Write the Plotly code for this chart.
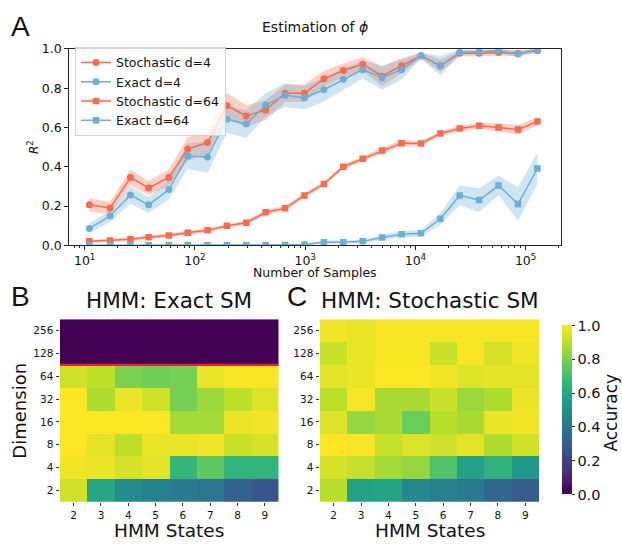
import plotly.graph_objects as go

W, H = 622, 546
FONT = "DejaVu Sans"

# ---- Panel A: R^2 of the phi estimate vs number of samples ----
samples = [11, 17, 26, 38, 58, 86, 130, 195, 292, 438, 657, 985, 1478, 2217,
           3325, 4988, 7482, 11223, 16834, 25251, 37877, 56815, 85223, 127834]

stoch_d4 = [0.206, 0.19, 0.345, 0.292, 0.345, 0.49, 0.523, 0.71, 0.658, 0.688,
            0.774, 0.774, 0.848, 0.89, 0.922, 0.861, 0.914, 0.965, 0.914, 0.977,
            0.977, 0.982, 0.977, 0.99]
stoch_d4_err = [0.035, 0.03, 0.04, 0.035, 0.04, 0.06, 0.06, 0.065, 0.055, 0.05,
                0.045, 0.045, 0.04, 0.035, 0.035, 0.05, 0.04, 0.015, 0.03, 0.015,
                0.015, 0.015, 0.015, 0.01]

exact_d4 = [0.086, 0.149, 0.256, 0.206, 0.284, 0.454, 0.449, 0.642, 0.617, 0.714,
            0.764, 0.751, 0.792, 0.845, 0.894, 0.853, 0.894, 0.965, 0.914, 0.982,
            0.985, 0.99, 0.974, 0.995]
exact_d4_err = [0.025, 0.03, 0.045, 0.04, 0.05, 0.065, 0.08, 0.07, 0.07, 0.06,
                0.06, 0.06, 0.06, 0.055, 0.045, 0.06, 0.05, 0.015, 0.05, 0.015,
                0.012, 0.012, 0.015, 0.01]

stoch_d64 = [0.02, 0.025, 0.031, 0.041, 0.05, 0.064, 0.076, 0.099, 0.115, 0.168,
             0.188, 0.254, 0.312, 0.40, 0.44, 0.482, 0.52, 0.518, 0.569, 0.594,
             0.609, 0.60, 0.589, 0.63]
stoch_d64_err = [0.008, 0.008, 0.008, 0.01, 0.01, 0.01, 0.01, 0.01, 0.01, 0.012,
                 0.012, 0.012, 0.012, 0.012, 0.012, 0.015, 0.015, 0.012, 0.012, 0.015,
                 0.015, 0.02, 0.025, 0.02]

exact_d64 = [0.0, 0.0, 0.0, 0.0, 0.0, 0.0, 0.0, 0.0, 0.0, 0.0,
             0.002, 0.004, 0.016, 0.016, 0.02, 0.04, 0.056, 0.061, 0.135, 0.254,
             0.23, 0.304, 0.21, 0.391]
exact_d64_err = [0.002, 0.002, 0.002, 0.002, 0.002, 0.002, 0.002, 0.002, 0.002, 0.002,
                 0.003, 0.004, 0.008, 0.008, 0.008, 0.012, 0.015, 0.018, 0.03, 0.05,
                 0.06, 0.05, 0.085, 0.08]

# ---- Panels B/C: HMM accuracy by state count and dimension ----
hmm_states = ["2", "3", "4", "5", "6", "7", "8", "9"]
dimensions = ["256", "128", "64", "32", "16", "8", "4", "2"]

acc_exact = [
    [0.0, 0.0, 0.0, 0.0, 0.0, 0.0, 0.0, 0.0],
    [0.0, 0.0, 0.0, 0.0, 0.0, 0.0, 0.0, 0.0],
    [0.93, 0.90, 0.80, 0.78, 0.79, 0.97, 0.99, 0.99],
    [1.0, 0.88, 0.97, 0.93, 0.79, 0.85, 0.90, 0.95],
    [1.0, 1.0, 1.0, 1.0, 0.86, 0.86, 0.97, 0.98],
    [1.0, 0.96, 0.90, 0.97, 0.97, 0.98, 0.92, 0.94],
    [0.98, 0.97, 0.94, 0.96, 0.66, 0.75, 0.65, 0.65],
    [0.93, 0.59, 0.48, 0.44, 0.41, 0.39, 0.31, 0.27],
]
acc_stoch = [
    [0.98, 0.97, 0.99, 0.99, 0.99, 0.99, 0.99, 0.99],
    [0.92, 0.97, 0.99, 0.99, 0.92, 0.99, 0.94, 0.98],
    [0.96, 0.97, 1.0, 1.0, 0.98, 0.95, 0.96, 0.96],
    [0.90, 0.99, 0.87, 0.87, 0.92, 0.85, 0.88, 0.97],
    [0.95, 0.84, 0.87, 0.77, 0.89, 0.87, 0.97, 0.98],
    [1.0, 0.99, 0.91, 0.95, 0.93, 0.96, 0.88, 0.93],
    [0.94, 0.91, 0.86, 0.84, 0.72, 0.57, 0.64, 0.53],
    [0.89, 0.57, 0.58, 0.47, 0.43, 0.41, 0.33, 0.29],
]

RED = "#fa6a4c"
BLUE = "#6baed6"
RED_FILL = "rgba(250,106,76,0.32)"
BLUE_FILL = "rgba(107,174,214,0.32)"

fig = go.Figure()

series = [
    ("Stochastic d=4", stoch_d4, stoch_d4_err, RED, RED_FILL, "circle", 7),
    ("Exact d=4", exact_d4, exact_d4_err, BLUE, BLUE_FILL, "circle", 7),
    ("Stochastic d=64", stoch_d64, stoch_d64_err, RED, RED_FILL, "square", 6.5),
    ("Exact d=64", exact_d64, exact_d64_err, BLUE, BLUE_FILL, "square", 6.5),
]

# shaded spread bands first, mean lines on top
for name, vals, err, col, fill, sym, msize in series:
    upper = [v + e for v, e in zip(vals, err)]
    lower = [v - e for v, e in zip(vals, err)]
    fig.add_trace(go.Scatter(x=samples, y=upper, mode="lines", line=dict(width=0),
                             showlegend=False, hoverinfo="skip", xaxis="x", yaxis="y"))
    fig.add_trace(go.Scatter(x=samples, y=lower, mode="lines", line=dict(width=0),
                             fill="tonexty", fillcolor=fill, showlegend=False,
                             hoverinfo="skip", xaxis="x", yaxis="y"))

for name, vals, err, col, fill, sym, msize in series:
    fig.add_trace(go.Scatter(x=samples, y=vals, mode="lines+markers", name=name,
                             line=dict(color=col, width=1.5),
                             marker=dict(symbol=sym, size=msize, color=col),
                             xaxis="x", yaxis="y"))

fig.add_trace(go.Heatmap(z=acc_exact, x=hmm_states, y=dimensions, colorscale="Viridis",
                         zmin=0, zmax=1, showscale=False, xaxis="x2", yaxis="y2"))
fig.add_trace(go.Heatmap(z=acc_stoch, x=hmm_states, y=dimensions, colorscale="Viridis",
                         zmin=0, zmax=1, xaxis="x3", yaxis="y3",
                         colorbar=dict(x=551.7 / W, xanchor="left", thickness=10,
                                       len=188.7, lenmode="pixels",
                                       y=1 - 413.3 / H, yanchor="middle",
                                       outlinewidth=0, ticks="outside", ticklen=3,
                                       tickcolor="#222", tickvals=[0, 0.2, 0.4, 0.6, 0.8, 1.0],
                                       ticktext=["0.0", "0.2", "0.4", "0.6", "0.8", "1.0"],
                                       tickfont=dict(size=14.5, color="#111", family=FONT))))


def px(x):
    return x / W


def py(y):
    return 1 - y / H


major = [10, 100, 1000, 10000, 100000]
minor = [m * 10 ** k for k in range(0, 6) for m in range(2, 10)]

axis_line = dict(showline=True, linecolor="#222", linewidth=1, mirror=True)

fig.update_layout(
    width=W, height=H, margin=dict(l=0, r=0, t=0, b=0),
    paper_bgcolor="white", plot_bgcolor="white",
    font=dict(family=FONT, size=12, color="#111"),
    showlegend=True,
    legend=dict(x=px(75), y=py(40), xanchor="left", yanchor="top",
                traceorder="normal",
                bgcolor="rgba(255,255,255,0.8)", bordercolor="#d0d0d0", borderwidth=1,
                font=dict(size=12.5, family=FONT), itemwidth=30, tracegroupgap=0),
    xaxis=dict(type="log", domain=[px(68.6), px(560.6)], range=[0.854, 5.317],
               anchor="y", tickvals=major,
               ticktext=["10<sup>1</sup>", "10<sup>2</sup>", "10<sup>3</sup>",
                         "10<sup>4</sup>", "10<sup>5</sup>"],
               ticks="outside", ticklen=3.5, tickcolor="#222", showgrid=False,
               tickfont=dict(size=12.5), zeroline=False,
               minor=dict(tickvals=minor, ticks="outside", ticklen=2, tickcolor="#222",
                          showgrid=False),
               **axis_line),
    yaxis=dict(domain=[py(244), py(42)], range=[0, 1], anchor="x",
               tickvals=[0, 0.2, 0.4, 0.6, 0.8, 1.0],
               ticktext=["0.0", "0.2", "0.4", "0.6", "0.8", "1.0"],
               ticks="outside", ticklen=3.5, tickcolor="#222", showgrid=False,
               tickfont=dict(size=12.5), zeroline=False, **axis_line),
    xaxis2=dict(domain=[px(60), px(278.5)], anchor="y2", ticks="outside", ticklen=3.5,
                tickcolor="#333", showline=False, showgrid=False, zeroline=False,
                tickfont=dict(size=10.5)),
    yaxis2=dict(domain=[py(507.7), py(320)], anchor="x2", autorange="reversed",
                ticks="outside", ticklen=3.5, tickcolor="#333", showline=False,
                showgrid=False, zeroline=False, tickfont=dict(size=10.5)),
    xaxis3=dict(domain=[px(320), px(539)], anchor="y3", ticks="outside", ticklen=3.5,
                tickcolor="#333", showline=False, showgrid=False, zeroline=False,
                tickfont=dict(size=10.5)),
    yaxis3=dict(domain=[py(507.7), py(320)], anchor="x3", autorange="reversed",
                ticks="outside", ticklen=3.5, tickcolor="#333", showline=False,
                showgrid=False, zeroline=False, tickfont=dict(size=10.5)),
)

# separator between the collapsed dimensions and the rest in panel B
fig.add_shape(type="line", xref="x2 domain", yref="y2", x0=0, x1=1, y0=1.5, y1=1.5,
              line=dict(color="#e0262a", width=2.2))

ann = [
    dict(text="A", x=px(20), y=py(19), size=28, family="Liberation Sans"),
    dict(text="B", x=px(20), y=py(297), size=28, family="Liberation Sans"),
    dict(text="C", x=px(297), y=py(297), size=28, family="Liberation Sans"),
    dict(text="Estimation of <i>ϕ</i>", x=px(314.6), y=py(20), size=14),
    dict(text="Number of Samples", x=px(314.6), y=py(272), size=12.5),
    dict(text="<i>R</i><sup>2</sup>", x=px(33), y=py(143), size=12, angle=-90),
    dict(text="HMM: Exact SM", x=px(169), y=py(301), size=21.5),
    dict(text="HMM: Stochastic SM", x=px(430), y=py(301), size=21.5),
    dict(text="HMM States", x=px(169), y=py(537), size=18.5),
    dict(text="HMM States", x=px(429.5), y=py(537), size=18.5),
    dict(text="Dimension", x=px(20), y=py(414), size=18, angle=-90),
    dict(text="Accuracy", x=px(611), y=py(416), size=17, angle=-90),
]
for a in ann:
    fig.add_annotation(text=a["text"], x=a["x"], y=a["y"], xref="paper", yref="paper",
                       xanchor="center", yanchor="middle", showarrow=False,
                       textangle=a.get("angle", 0),
                       font=dict(size=a["size"], family=a.get("family", FONT), color="#111"))

fig.write_html("out.html")
